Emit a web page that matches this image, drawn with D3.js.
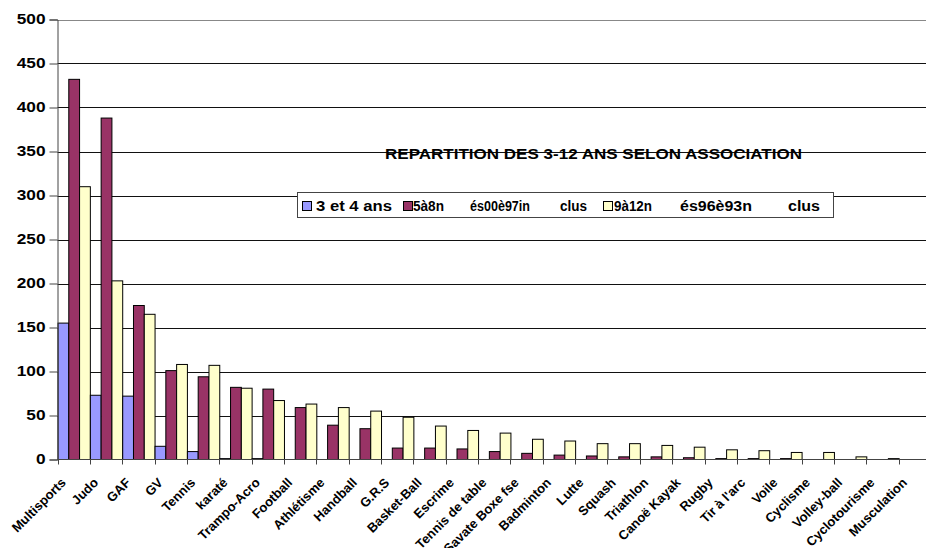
<!DOCTYPE html>
<html>
<head>
<meta charset="utf-8">
<script src="https://cdnjs.cloudflare.com/ajax/libs/d3/7.8.5/d3.min.js"></script>
<style>
  body { margin: 0; background: #fff; }
  svg { display: block; font-family: "Liberation Sans", Arial, sans-serif; }
</style>
</head>
<body>
<svg id="chart" width="926" height="548"></svg>
<script>
// Categories (associations)
const categories = ["Multisports", "Judo", "GAF", "GV", "Tennis", "karaté", "Trampo-Acro",
    "Football", "Athlétisme", "Handball", "G.R.S", "Basket-Ball", "Escrime", "Tennis de table",
    "Savate Boxe fse", "Badminton", "Lutte", "Squash", "Triathlon", "Canoë Kayak", "Rugby",
    "Tir à l'arc", "Voile", "Cyclisme", "Volley-ball", "Cyclotourisme", "Musculation"];

// Series values
const ans3_4 = [155, 73, 72, 15, 9, 1, 1, 0, 0, 0, 0, 0, 0, 0, 0, 0, 0, 0, 0, 0, 0, 0, 0, 0, 0, 0, 0];
const ans5_8 = [432, 388, 175, 101, 94, 82, 80, 59, 39, 35, 13, 13, 12, 9, 7, 5, 4, 3, 3, 2, 1, 1, 1, 0, 0, 0, 0];
const ans9_12 = [310, 203, 165, 108, 107, 81, 67, 63, 59, 55, 48, 38, 33, 30, 23, 21, 18, 18, 16, 14, 11, 10, 8, 8, 3, 1, 0];

const seriesNames = ["3 et 4 ans", "5 à 8 ans", "9 à 12 ans"];
const seriesColors = ["#9999ff", "#993366", "#ffffcc"];
const yTicks = [0, 50, 100, 150, 200, 250, 300, 350, 400, 450, 500];

const svg = d3.select("#chart");

// Plot area (runs past the right edge, as in the picture)
const plotLeft = 57.5, plotRight = 931, plotTop = 19.5, plotBottom = 459.5;

const x = d3.scaleBand()
    .domain(categories)
    .range([plotLeft, plotRight])
    .padding(0);

const xs = d3.scaleBand()
    .domain(d3.range(3))
    .range([0, x.bandwidth()])
    .padding(0);

const y = d3.scaleLinear()
    .domain([0, 500])
    .range([plotBottom, plotTop]);

// Gridlines
svg.append("g")
    .selectAll("line")
    .data(yTicks.filter(d => d > 0))
    .enter().append("line")
    .attr("x1", plotLeft)
    .attr("x2", 926)
    .attr("y1", d => Math.round(y(d)) + 0.5)
    .attr("y2", d => Math.round(y(d)) + 0.5)
    .attr("stroke", d => d === 500 ? "#888" : "#111")
    .attr("stroke-width", 1);

// Title (drawn under the bars, gridline runs through it)
svg.append("text")
    .attr("x", 385)
    .attr("y", 159)
    .attr("font-size", 15)
    .attr("font-weight", "bold")
    .attr("textLength", 417)
    .attr("lengthAdjust", "spacingAndGlyphs")
    .text("REPARTITION DES 3-12 ANS SELON ASSOCIATION");

// Bars
const table = categories.map((c, i) => ({ cat: c, vals: [ans3_4[i], ans5_8[i], ans9_12[i]] }));

const groups = svg.append("g")
    .selectAll("g")
    .data(table)
    .enter().append("g")
    .attr("transform", d => "translate(" + x(d.cat) + ",0)");

groups.selectAll("rect")
    .data(d => d.vals.map((v, k) => ({ v: v, k: k })).filter(e => e.v > 0))
    .enter().append("rect")
    .attr("x", d => xs(d.k) + 0.5)
    .attr("width", xs.bandwidth())
    .attr("y", d => y(d.v))
    .attr("height", d => y(0) - y(d.v))
    .attr("fill", d => seriesColors[d.k])
    .attr("stroke", "#000")
    .attr("stroke-width", 1);

// Y axis
const yAxis = svg.append("g")
    .attr("transform", "translate(" + plotLeft + ",0)")
    .call(d3.axisLeft(y).tickValues(yTicks).tickSize(8).tickPadding(4));
yAxis.select(".domain").attr("stroke", "#444");
yAxis.selectAll(".tick line").attr("stroke", "#444");
yAxis.selectAll("text")
    .attr("font-size", 14)
    .attr("font-weight", "bold")
    .attr("font-family", "'Liberation Sans', Arial, sans-serif")
    .attr("fill", "#000")
    .attr("textLength", d => String(d).length * 9.6)
    .attr("lengthAdjust", "spacingAndGlyphs");

// X axis (ticks between categories)
svg.append("line")
    .attr("x1", plotLeft).attr("x2", 926)
    .attr("y1", plotBottom).attr("y2", plotBottom)
    .attr("stroke", "#444");

svg.append("g")
    .selectAll("line")
    .data(d3.range(categories.length + 1))
    .enter().append("line")
    .attr("x1", i => Math.round(plotLeft + i * x.step()) + 0.5)
    .attr("x2", i => Math.round(plotLeft + i * x.step()) + 0.5)
    .attr("y1", plotBottom)
    .attr("y2", plotBottom + 5)
    .attr("stroke", "#444");

svg.append("g")
    .selectAll("text")
    .data(categories)
    .enter().append("text")
    .attr("transform", d => "translate(" + (x(d) + x.bandwidth() / 2 - 7) + "," + (plotBottom + 24) + ") rotate(-45)")
    .attr("text-anchor", "end")
    .attr("font-size", 13)
    .attr("font-weight", "bold")
    .text(d => d);

// Legend (garbled labels as they appear in the picture)
const legend = svg.append("g");
legend.append("rect")
    .attr("x", 297.5).attr("y", 192.5)
    .attr("width", 536).attr("height", 25)
    .attr("fill", "#fff")
    .attr("stroke", "#444");

const legendSwatches = [302.5, 403.5, 603.5];
legend.selectAll(".sw")
    .data(legendSwatches)
    .enter().append("rect")
    .attr("class", "sw")
    .attr("x", d => d)
    .attr("y", 201.5)
    .attr("width", 9).attr("height", 9)
    .attr("fill", (d, i) => seriesColors[i])
    .attr("stroke", "#000");

const legendTexts = [
    { t: "3 et 4 ans", x: 316, w: 76 },
    { t: "5à8n", x: 413, w: 31 },
    { t: "és00è97in", x: 470, w: 60 },
    { t: "clus", x: 560, w: 27 },
    { t: "9à12n", x: 614, w: 38 },
    { t: "és96è93n", x: 680, w: 72 },
    { t: "clus", x: 788, w: 32 }
];
legend.selectAll("text")
    .data(legendTexts)
    .enter().append("text")
    .attr("x", d => d.x)
    .attr("y", 211)
    .attr("font-size", 14.5)
    .attr("font-weight", "bold")
    .attr("textLength", d => d.w)
    .attr("lengthAdjust", "spacingAndGlyphs")
    .text(d => d.t);
</script>
</body>
</html>
